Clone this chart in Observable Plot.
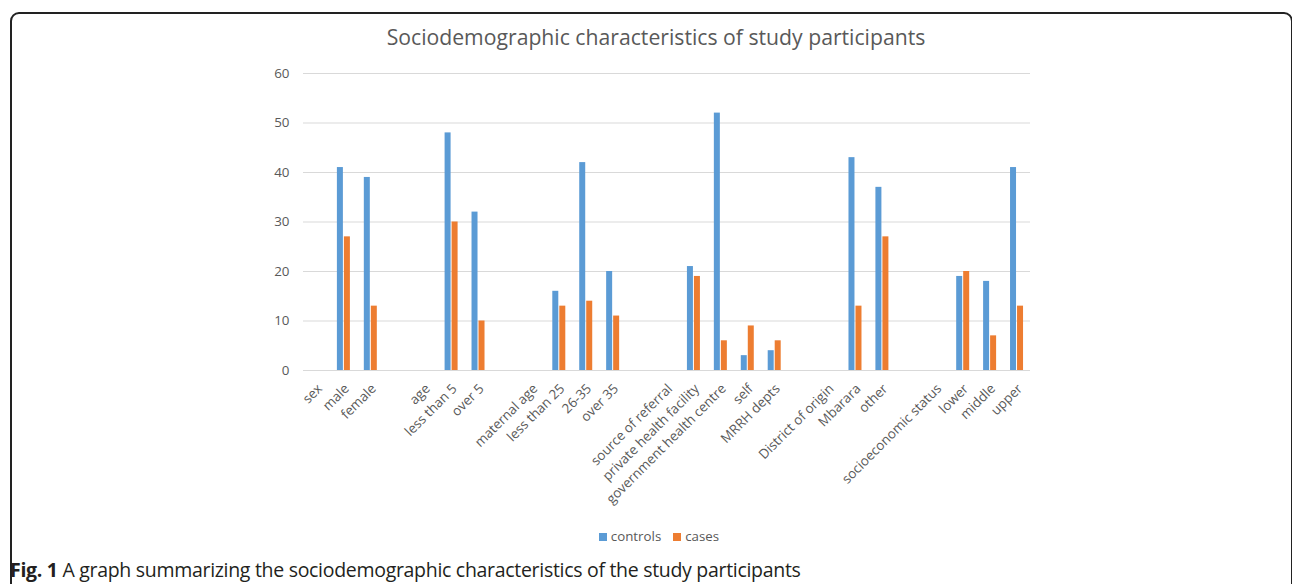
<!DOCTYPE html>
<html>
<head>
<meta charset="utf-8">
<script src="https://cdn.jsdelivr.net/npm/d3@7"></script>
<script src="https://cdn.jsdelivr.net/npm/@observablehq/plot@0.6"></script>
<style>
  html, body { margin:0; padding:0; background:#fff; width:1292px; height:584px; overflow:hidden; }
  #frame { position:absolute; left:10px; top:12px; width:1283px; height:600px; border:2px solid #222; border-radius:9px; box-sizing:border-box; }
  #title { position:absolute; left:0; width:1312px; top:22px; text-align:center; font-family:"Open Sans", sans-serif; font-size:21.2px; color:#595959; }
  #chart { position:absolute; left:0; top:60px; }
  #legend { position:absolute; top:527px; left:0; width:1318px; text-align:center; font-family:"Open Sans", sans-serif; font-size:13.3px; color:#595959; }
  #legend span.sw { display:inline-block; width:8px; height:8px; margin-right:4px; vertical-align:0px; }
  #legend span.item { margin:0 6px; }
  #caption { position:absolute; left:10px; top:556px; font-family:"Open Sans", sans-serif; font-size:19.5px; color:#231f20; letter-spacing:-0.3px; white-space:nowrap; }
</style>
</head>
<body>
<div id="frame"></div>
<div id="title">Sociodemographic characteristics of study participants</div>
<div id="chart"></div>
<div id="legend"></div>
<div id="caption"><b>Fig. 1</b> A graph summarizing the sociodemographic characteristics of the study participants</div>
<script>
const categories = ["sex","male","female"," ","age","less than 5","over 5","  ","maternal age","less than 25","26-35","over 35","   ","source of referral","private health facility","government health centre","self","MRRH depts","    ","District of origin","Mbarara","other","     ","socioeconomic status","lower","middle","upper"];
const controls = [null,41,39,null,null,48,32,null,null,16,42,20,null,null,21,52,3,4,null,null,43,37,null,null,19,18,41];
const cases    = [null,27,13,null,null,30,10,null,null,13,14,11,null,null,19,6,9,6,null,null,13,27,null,null,20,7,13];
const seriesNames = ["controls","cases"];
const seriesColors = ["#5B9BD5","#ED7D31"];
const yTicks = [0,10,20,30,40,50,60];

const controlRows = categories.map((c,i)=>({category:c, value:controls[i]})).filter(d=>d.value!=null);
const caseRows = categories.map((c,i)=>({category:c, value:cases[i]})).filter(d=>d.value!=null);

const bw = 727/27;
const chart = Plot.plot({
  width:1292, height:460,
  marginLeft:303, marginRight:262, marginTop:13, marginBottom:150,
  style:{fontFamily:"Open Sans, sans-serif", fontSize:"13.4px", color:"#595959", background:"transparent"},
  x:{domain:categories, padding:0, round:false, label:null},
  y:{domain:[0,60], label:null},
  marks:[
    Plot.gridY(yTicks,{stroke:"#d9d9d9", strokeOpacity:1, strokeWidth:1}),
    Plot.barY(controlRows,{x:"category", y:"value", fill:seriesColors[0], insetLeft:bw/2-6.5, insetRight:bw/2+0.5}),
    Plot.barY(caseRows,{x:"category", y:"value", fill:seriesColors[1], insetLeft:bw/2+0.5, insetRight:bw/2-6.5}),
    Plot.axisX({tickRotate:-45, tickSize:0, tickPadding:6, label:null, fill:"#595959", dx:3, dy:10}),
    Plot.axisY({ticks:yTicks, tickSize:0, tickPadding:14, label:null, fill:"#595959"})
  ]
});
document.getElementById("chart").appendChild(chart);

const legend = document.getElementById("legend");
legend.innerHTML = seriesNames.map((n,i)=>`<span class="item"><span class="sw" style="background:${seriesColors[i]}"></span>${n}</span>`).join("");
</script>
</body>
</html>
